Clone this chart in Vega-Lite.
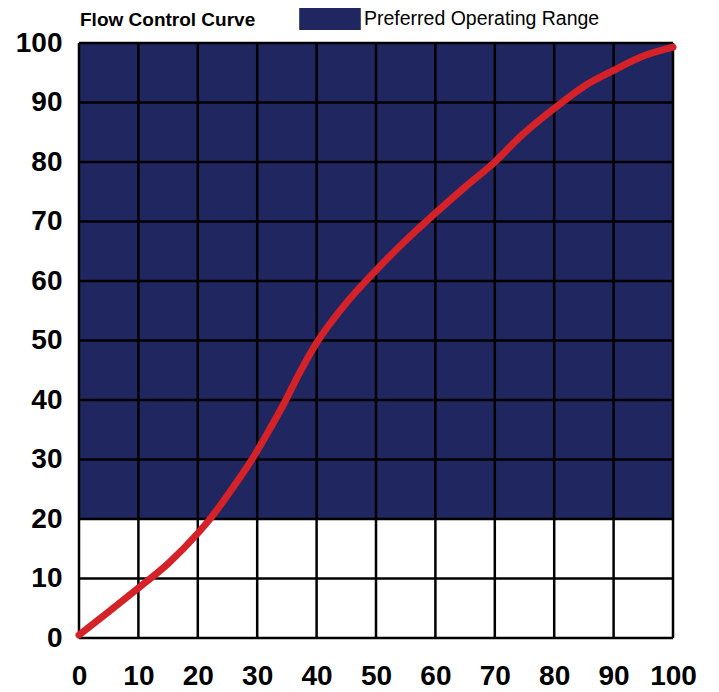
{
  "$schema": "https://vega.github.io/schema/vega-lite/v6.json",
  "width": 594,
  "height": 595,
  "autosize": "none",
  "padding": {"left": 79, "top": 43, "right": 46, "bottom": 54},
  "background": "white",
  "config": {
    "view": {"stroke": null},
    "font": "Liberation Sans"
  },
  "datasets": {
    "curve": [
      {"x": 0, "y": 0.5},
      {"x": 5, "y": 4.4},
      {"x": 10, "y": 8.4},
      {"x": 15, "y": 12.5},
      {"x": 20, "y": 17.6},
      {"x": 22.2, "y": 20.2},
      {"x": 26, "y": 25.4},
      {"x": 28.8, "y": 29.5},
      {"x": 31.6, "y": 34.2},
      {"x": 34.4, "y": 39.2},
      {"x": 37.2, "y": 44.7},
      {"x": 40, "y": 49.6},
      {"x": 44.5, "y": 55.7},
      {"x": 50, "y": 61.8},
      {"x": 55, "y": 66.8},
      {"x": 60, "y": 71.4},
      {"x": 65, "y": 75.8},
      {"x": 70, "y": 80},
      {"x": 74.1, "y": 84.1},
      {"x": 80, "y": 89},
      {"x": 85, "y": 92.7},
      {"x": 90, "y": 95.4},
      {"x": 95, "y": 97.8},
      {"x": 100, "y": 99.3}
    ],
    "grid": [
      {"v": 0}, {"v": 10}, {"v": 20}, {"v": 30}, {"v": 40}, {"v": 50},
      {"v": 60}, {"v": 70}, {"v": 80}, {"v": 90}, {"v": 100}
    ],
    "range": [
      {"x0": 0, "x1": 100, "y0": 20, "y1": 100, "label": "Preferred Operating Range"}
    ]
  },
  "layer": [
    {
      "data": {"name": "range"},
      "mark": {"type": "rect"},
      "encoding": {
        "x": {"field": "x0", "type": "quantitative", "scale": {"domain": [0, 100], "nice": false, "zero": false},
          "axis": {"values": [0,10,20,30,40,50,60,70,80,90,100], "title": null, "grid": false, "domain": false, "ticks": false,
            "labelFontSize": 28, "labelFontWeight": "bold", "labelColor": "black", "labelPadding": 24, "labelFont": "Liberation Sans", "labelFlush": false, "labelOverlap": false}},
        "x2": {"field": "x1"},
        "y": {"field": "y0", "type": "quantitative", "scale": {"domain": [0, 100], "nice": false, "zero": false},
          "axis": {"values": [0,10,20,30,40,50,60,70,80,90,100], "title": null, "grid": false, "domain": false, "ticks": false,
            "labelFontSize": 28, "labelFontWeight": "bold", "labelColor": "black", "labelPadding": 17, "labelFont": "Liberation Sans", "labelFlush": false, "labelOverlap": false}},
        "y2": {"field": "y1"},
        "color": {"field": "label", "type": "nominal", "scale": {"range": ["#20265f"]},
          "legend": {"title": "Flow Control Curve", "titleOrient": "left", "titleFontSize": 19, "titleFontWeight": "bold",
            "titleFont": "Liberation Sans", "titleColor": "black", "titlePadding": 52, "titleBaseline": "bottom", "titleAnchor": "end",
            "orient": "none", "legendX": 1, "legendY": -46,
            "symbolType": "M-1.4,-0.5H1.4V0.5H-1.4Z", "symbolSize": 1936, "symbolStrokeWidth": 0, "symbolOpacity": 1,
            "labelFontSize": 19.5, "labelFont": "Liberation Sans", "labelColor": "black", "labelOffset": 12, "labelLimit": 400}}
      }
    },
    {
      "data": {"name": "grid"},
      "mark": {"type": "rule", "color": "black", "strokeWidth": 2.5},
      "encoding": {"x": {"field": "v", "type": "quantitative"}}
    },
    {
      "data": {"name": "grid"},
      "mark": {"type": "rule", "color": "black", "strokeWidth": 2.5},
      "encoding": {"y": {"field": "v", "type": "quantitative"}}
    },
    {
      "data": {"name": "curve"},
      "mark": {"type": "line", "color": "#d52128", "strokeWidth": 7, "strokeCap": "round", "strokeJoin": "round", "interpolate": "monotone"},
      "encoding": {
        "x": {"field": "x", "type": "quantitative"},
        "y": {"field": "y", "type": "quantitative"}
      }
    }
  ]
}
